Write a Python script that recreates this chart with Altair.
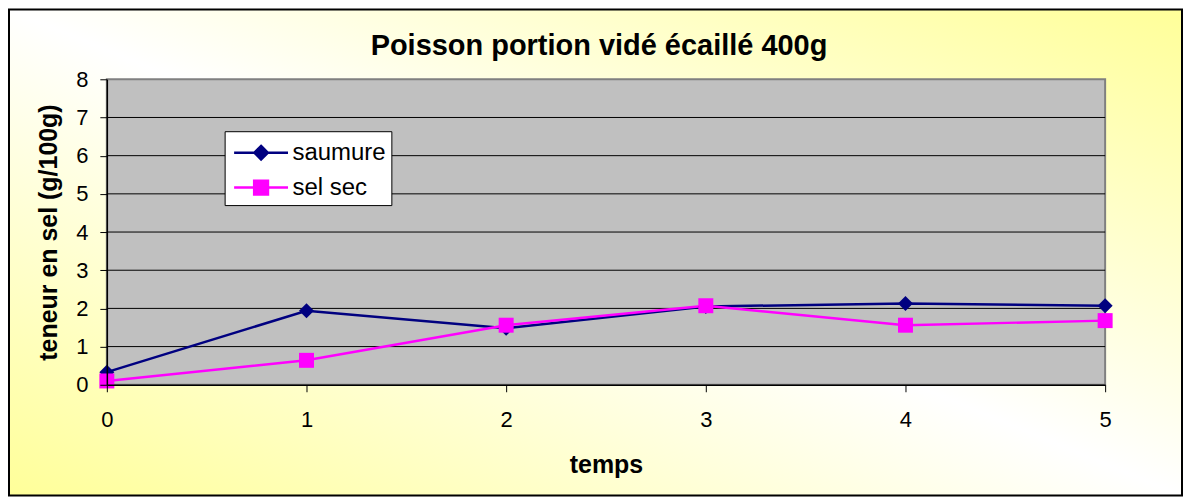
import altair as alt
import pandas as pd

# ---- data ----
temps = [0, 1, 2, 3, 4, 5]
saumure = [0.33, 1.94, 1.48, 2.05, 2.13, 2.07]
sel_sec = [0.10, 0.64, 1.56, 2.07, 1.56, 1.68]
series_names = ["saumure", "sel sec"]
series_colors = ["#000080", "#FF00FF"]
x_ticks = [0, 1, 2, 3, 4, 5]
y_ticks = [0, 1, 2, 3, 4, 5, 6, 7, 8]
grid_values = [1, 2, 3, 4, 5, 6, 7]

title_text = "Poisson portion vidé écaillé 400g"
x_title = "temps"
y_title = "teneur en sel (g/100g)"

FONT = "Liberation Sans"
W, H = 1000, 306
PAD = {"left": 99, "top": 71, "right": 78, "bottom": 112}

df = pd.DataFrame({
    "t": temps + temps,
    "v": saumure + sel_sec,
    "series": [series_names[0]] * len(temps) + [series_names[1]] * len(temps),
})
one = pd.DataFrame({"a": [0]})

xscale = alt.Scale(domain=[0, 5], nice=False, zero=False)
yscale = alt.Scale(domain=[0, 8], nice=False)
# data-driven domain (sorted: saumure, sel sec)
cscale = alt.Scale(range=series_colors)

xaxis = alt.Axis(values=x_ticks, title=x_title, grid=False, domainColor="black",
                 domainWidth=1.5, tickColor="black", tickSize=7, tickWidth=1,
                 labelFont=FONT, labelFontSize=22, labelColor="black",
                 labelPadding=18, labelFlush=False,
                 titleFont=FONT, titleFontSize=25, titleFontWeight="bold",
                 titleColor="black", titlePadding=22, zindex=2)
yaxis = alt.Axis(values=y_ticks, title=y_title, grid=False, domainColor="black",
                 domainWidth=1.5, tickColor="black", tickSize=7, tickWidth=1,
                 labelFont=FONT, labelFontSize=22, labelColor="black",
                 labelPadding=12, labelFlush=False,
                 titleFont=FONT, titleFontSize=25, titleFontWeight="bold",
                 titleColor="black", titlePadding=14, zindex=2)

gradient = alt.LinearGradient(
    gradient="linear",
    stops=[alt.GradientStop(color="#FFFF99", offset=0),
           alt.GradientStop(color="#FFFFFF", offset=0.5),
           alt.GradientStop(color="#FFFF99", offset=1)],
    x1=0, y1=1, x2=1, y2=0,
)

bg = alt.Chart(one).mark_rect(fill=gradient, stroke="black", strokeWidth=2).encode(
    x=alt.value(-PAD["left"] + 1), x2=alt.value(W + PAD["right"] - 1),
    y=alt.value(-PAD["top"] + 1), y2=alt.value(H + PAD["bottom"] - 1),
)

plot_bg = alt.Chart(one).mark_rect(fill="#C0C0C0", stroke="#808080", strokeWidth=2).encode(
    x=alt.value(0), x2=alt.value(W), y=alt.value(0), y2=alt.value(H),
)

grid = alt.Chart(pd.DataFrame({"g": grid_values})).mark_rule(
    color="black", strokeWidth=1).encode(
    y=alt.Y("g:Q", scale=yscale, axis=yaxis),
)

lines = alt.Chart(df).mark_line(strokeWidth=2.5).encode(
    x=alt.X("t:Q", scale=xscale, axis=xaxis),
    y=alt.Y("v:Q", scale=yscale, axis=yaxis),
    color=alt.Color("series:N", scale=cscale, legend=None),
)

pts_diamond = alt.Chart(df).transform_filter(
    alt.datum.series == series_names[0]
).mark_point(shape="diamond", filled=True, size=225, opacity=1).encode(
    x=alt.X("t:Q", scale=xscale, axis=xaxis),
    y=alt.Y("v:Q", scale=yscale, axis=yaxis),
    color=alt.Color("series:N", scale=cscale, legend=None),
)

pts_square = alt.Chart(df).transform_filter(
    alt.datum.series == series_names[1]
).mark_point(shape="square", filled=True, size=225, opacity=1).encode(
    x=alt.X("t:Q", scale=xscale, axis=xaxis),
    y=alt.Y("v:Q", scale=yscale, axis=yaxis),
    color=alt.Color("series:N", scale=cscale, legend=None),
)

# legend symbols: short line with marker (the layer's own marks are invisible)
legend_paths = [
    "M-1.8,0H1.8M0,-0.45L0.45,0L0,0.45L-0.45,0Z",
    "M-1.8,0H1.8M-0.46,-0.46H0.46V0.46H-0.46Z",
]
leg = alt.Legend(orient="none", legendX=118, legendY=52, title=None,
                 fillColor="white", strokeColor="black", padding=5,
                 rowPadding=6, symbolSize=900, symbolStrokeWidth=2.5,
                 symbolOffset=15, labelOffset=15, labelFont=FONT,
                 labelFontSize=24, labelColor="black", symbolOpacity=1,
                 zindex=3)

legend_layer = alt.Chart(df).mark_point(filled=True, opacity=0, size=1).encode(
    x=alt.X("t:Q", scale=xscale, axis=xaxis),
    y=alt.Y("v:Q", scale=yscale, axis=yaxis),
    fill=alt.Fill("series:N", scale=alt.Scale(domain=series_names, range=series_colors), legend=leg),
    stroke=alt.Stroke("series:N", scale=alt.Scale(domain=series_names, range=series_colors), legend=leg),
    shape=alt.Shape("series:N", scale=alt.Scale(domain=series_names, range=legend_paths), legend=leg),
)

chart = alt.layer(bg, plot_bg, grid, lines, pts_diamond, pts_square, legend_layer).properties(
    width=W, height=H,
    padding=PAD,
    autosize=alt.AutoSizeParams(type="none"),
    background="white",
    title=alt.TitleParams(text=title_text, font=FONT, fontSize=29, fontWeight="bold",
                          color="black", anchor="middle", offset=12, dx=-7, dy=88,
                          baseline="alphabetic", zindex=3),
).configure_view(stroke=None)

chart.save("out.html", embed_options={"renderer": "svg", "actions": False})
